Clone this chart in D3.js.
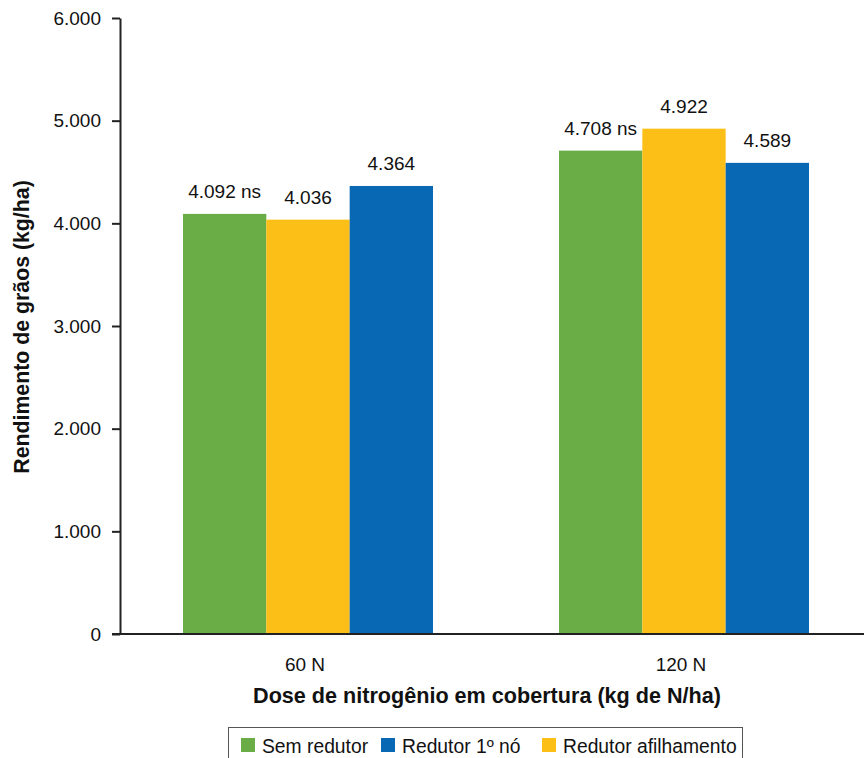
<!DOCTYPE html>
<html>
<head>
<meta charset="utf-8">
<script src="https://cdn.jsdelivr.net/npm/d3@7"></script>
<style>
  html, body { margin: 0; padding: 0; background: #fff; }
  svg { display: block; font-family: "Liberation Sans", Arial, sans-serif; }
</style>
</head>
<body>
<svg id="chart" width="864" height="758"></svg>
<script>
// Doses of nitrogen applied as top-dressing
const doses = ["60 N", "120 N"];
// Treatments, in drawing order within each group
const treatments = ["Sem redutor", "Redutor afilhamento", "Redutor 1º nó"];
const colors = ["#6aac46", "#fcbf17", "#0868b3"];
// Grain yield (kg/ha) per treatment, one entry per dose
const semRedutor = [4092, 4708];
const redutorAfilhamento = [4036, 4922];
const redutor1No = [4364, 4589];
const yTicks = [0, 1000, 2000, 3000, 4000, 5000, 6000];
// Legend order
const legendItems = ["Sem redutor", "Redutor 1º nó", "Redutor afilhamento"];

const series = [semRedutor, redutorAfilhamento, redutor1No];

const locale = d3.formatLocale({ decimal: ",", thousands: ".", grouping: [3], currency: ["R$", ""] });
const fmt = locale.format(",.0f");

const svg = d3.select("#chart");
const x0 = 120, x1 = 872, y0 = 634, y1 = 18;

const x = d3.scaleBand().domain(doses).range([x0, x1]).padding(0);
const xs = d3.scaleBand().domain(d3.range(treatments.length))
  .range([63, x.bandwidth() - 63]).padding(0);
const y = d3.scaleLinear().domain([0, 6000]).range([y0, y1]);

// Bars with value labels ("ns" marks the non-significant comparison)
const groups = svg.append("g").selectAll("g").data(doses).join("g")
  .attr("transform", d => `translate(${x(d)},0)`);

groups.each(function(dose, gi) {
  const g = d3.select(this);
  series.forEach((vals, si) => {
    const v = vals[gi];
    g.append("rect")
      .attr("x", xs(si))
      .attr("width", xs.bandwidth())
      .attr("y", y(v))
      .attr("height", y(0) - y(v))
      .attr("fill", colors[si]);
    g.append("text")
      .attr("x", xs(si) + xs.bandwidth() / 2)
      .attr("y", y(v) - 15.5)
      .attr("text-anchor", "middle")
      .attr("font-size", 19)
      .attr("fill", "#111")
      .text(fmt(v) + (si === 0 ? " ns" : ""));
  });
});

// Y axis
const yAxis = d3.axisLeft(y).tickValues(yTicks).tickFormat(d => fmt(d))
  .tickSize(8).tickPadding(11).tickSizeOuter(0);
const gy = svg.append("g").attr("transform", `translate(${x0},0)`).call(yAxis);
gy.select(".domain").attr("stroke", "#222").attr("stroke-width", 2);
gy.selectAll(".tick line").attr("stroke", "#222").attr("stroke-width", 2);
gy.selectAll(".tick text").attr("font-size", 19).attr("fill", "#111")
  .attr("font-family", "Liberation Sans, Arial, sans-serif");

// X axis baseline
svg.append("line")
  .attr("x1", x0 - 8).attr("x2", 864)
  .attr("y1", y0).attr("y2", y0)
  .attr("stroke", "#222").attr("stroke-width", 2);

// X category labels
svg.append("g").selectAll("text").data(doses).join("text")
  .attr("x", d => x(d) + x.bandwidth() / 2 - 3)
  .attr("y", 671)
  .attr("text-anchor", "middle")
  .attr("font-size", 19)
  .attr("fill", "#111")
  .text(d => d);

// Axis titles
svg.append("text")
  .attr("x", 487).attr("y", 703)
  .attr("text-anchor", "middle")
  .attr("font-size", 21.6).attr("font-weight", "bold").attr("fill", "#111")
  .text("Dose de nitrogênio em cobertura (kg de N/ha)");

svg.append("text")
  .attr("transform", "translate(29,327) rotate(-90)")
  .attr("text-anchor", "middle")
  .attr("font-size", 21.3).attr("font-weight", "bold").attr("fill", "#111")
  .text("Rendimento de grãos (kg/ha)");

// Legend
const lg = svg.append("g");
lg.append("rect")
  .attr("x", 228.5).attr("y", 727.5).attr("width", 514).attr("height", 40)
  .attr("fill", "none").attr("stroke", "#555").attr("stroke-width", 1);
const legendX = [241, 381, 542];
legendItems.forEach((name, i) => {
  const ci = treatments.indexOf(name);
  lg.append("rect")
    .attr("x", legendX[i]).attr("y", 738).attr("width", 14).attr("height", 14)
    .attr("fill", colors[ci]);
  lg.append("text")
    .attr("x", legendX[i] + 21).attr("y", 753)
    .attr("font-size", 19.3).attr("fill", "#111")
    .text(name);
});
</script>
</body>
</html>
